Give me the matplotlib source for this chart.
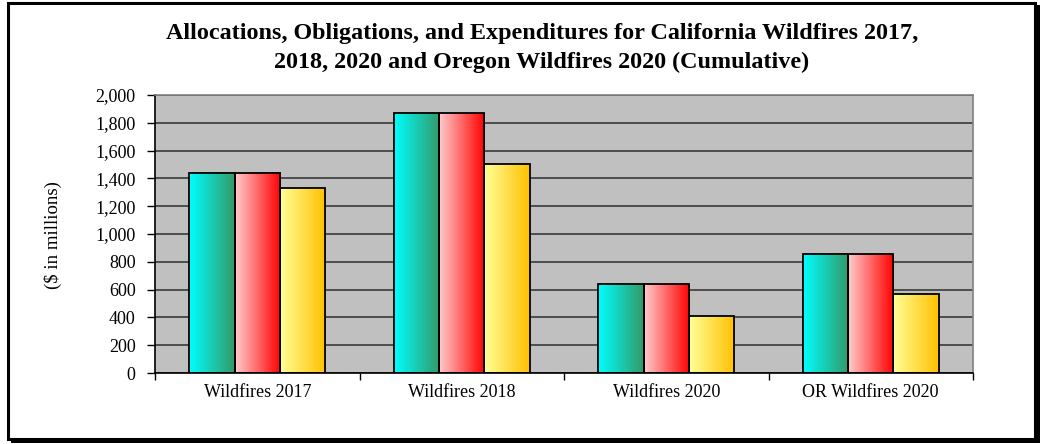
import matplotlib
matplotlib.use("Agg")
import matplotlib.pyplot as plt
import numpy as np
from matplotlib.colors import LinearSegmentedColormap
from matplotlib.patches import Rectangle

categories = ["Wildfires 2017", "Wildfires 2018", "Wildfires 2020", "OR Wildfires 2020"]
allocations = [1440, 1870, 640, 855]
obligations = [1440, 1870, 640, 855]
expenditures = [1330, 1500, 410, 568]
yticks = list(range(0, 2001, 200))

grads = [("#00FFFF", "#339966"), ("#FFCCCC", "#FF0000"), ("#FFFF99", "#FFC000")]

plt.rcParams['font.family'] = ['Liberation Serif', 'DejaVu Serif']

fig = plt.figure(figsize=(10.42, 4.44), dpi=100)
W, H = 1042, 444

# outer frame with shadow
fig.patches.append(Rectangle((11 / W, 1 - 443 / H), 1029 / W, 438 / H, transform=fig.transFigure,
                             facecolor="black", edgecolor="none", zorder=0))
fig.patches.append(Rectangle((8 / W, 1 - 439 / H), 1027 / W, 436 / H, transform=fig.transFigure,
                             facecolor="white", edgecolor="black", linewidth=2.2, zorder=1))

ax = fig.add_axes([155 / W, 1 - 373 / H, 818 / W, 278 / H])
ax.set_zorder(5)
ax.set_facecolor("#C0C0C0")

x = np.arange(len(categories))
bw = 0.222
series = [allocations, obligations, expenditures]
grad = np.linspace(0, 1, 256).reshape(1, -1)
for i, (vals, (c0, c1)) in enumerate(zip(series, grads)):
    cmap = LinearSegmentedColormap.from_list("g%d" % i, [c0, c1])
    offs = (i - 1) * bw
    bars = ax.bar(x + offs, vals, width=bw, facecolor="none", edgecolor="black", linewidth=1.3, zorder=3)
    for b in bars:
        x0, y0 = b.get_x(), b.get_y()
        ax.imshow(grad, cmap=cmap, aspect="auto", extent=(x0, x0 + b.get_width(), y0, y0 + b.get_height()),
                  zorder=2, interpolation="bilinear")

ax.set_xlim(-0.5, 3.5)
ax.set_ylim(0, 2000)
ax.set_yticks(yticks)
ax.set_yticklabels([f"{v:,}" for v in yticks], fontsize=13)
ax.yaxis.grid(True, color="#3a3a3a", linewidth=1.2, zorder=1)
ax.set_axisbelow(True)
ax.set_xticks(x)
ax.set_xticklabels(categories, fontsize=13)
ax.set_xticks(np.arange(-0.5, 4, 1), minor=True)
ax.tick_params(axis="x", which="major", length=0, pad=8)
ax.tick_params(axis="x", which="minor", length=5, direction="out", width=1)
ax.tick_params(axis="y", length=6, direction="out", width=1, pad=8)
for s in ["top", "right"]:
    ax.spines[s].set_color("#808080")
    ax.spines[s].set_linewidth(1.2)
for s in ["left", "bottom"]:
    ax.spines[s].set_color("black")
    ax.spines[s].set_linewidth(1.2)

fig.text(53 / W, 1 - 235 / H, "($ in millions)", rotation=90, ha="center", va="center", fontsize=13.5)

fig.text(542 / W, 1 - 48 / H, "Allocations, Obligations, and Expenditures for California Wildfires 2017,\n"
         "2018, 2020 and Oregon Wildfires 2020 (Cumulative)", ha="center", va="center",
         fontsize=17.4, fontweight="bold", linespacing=1.5)

fig.savefig("out.png", dpi=100)
